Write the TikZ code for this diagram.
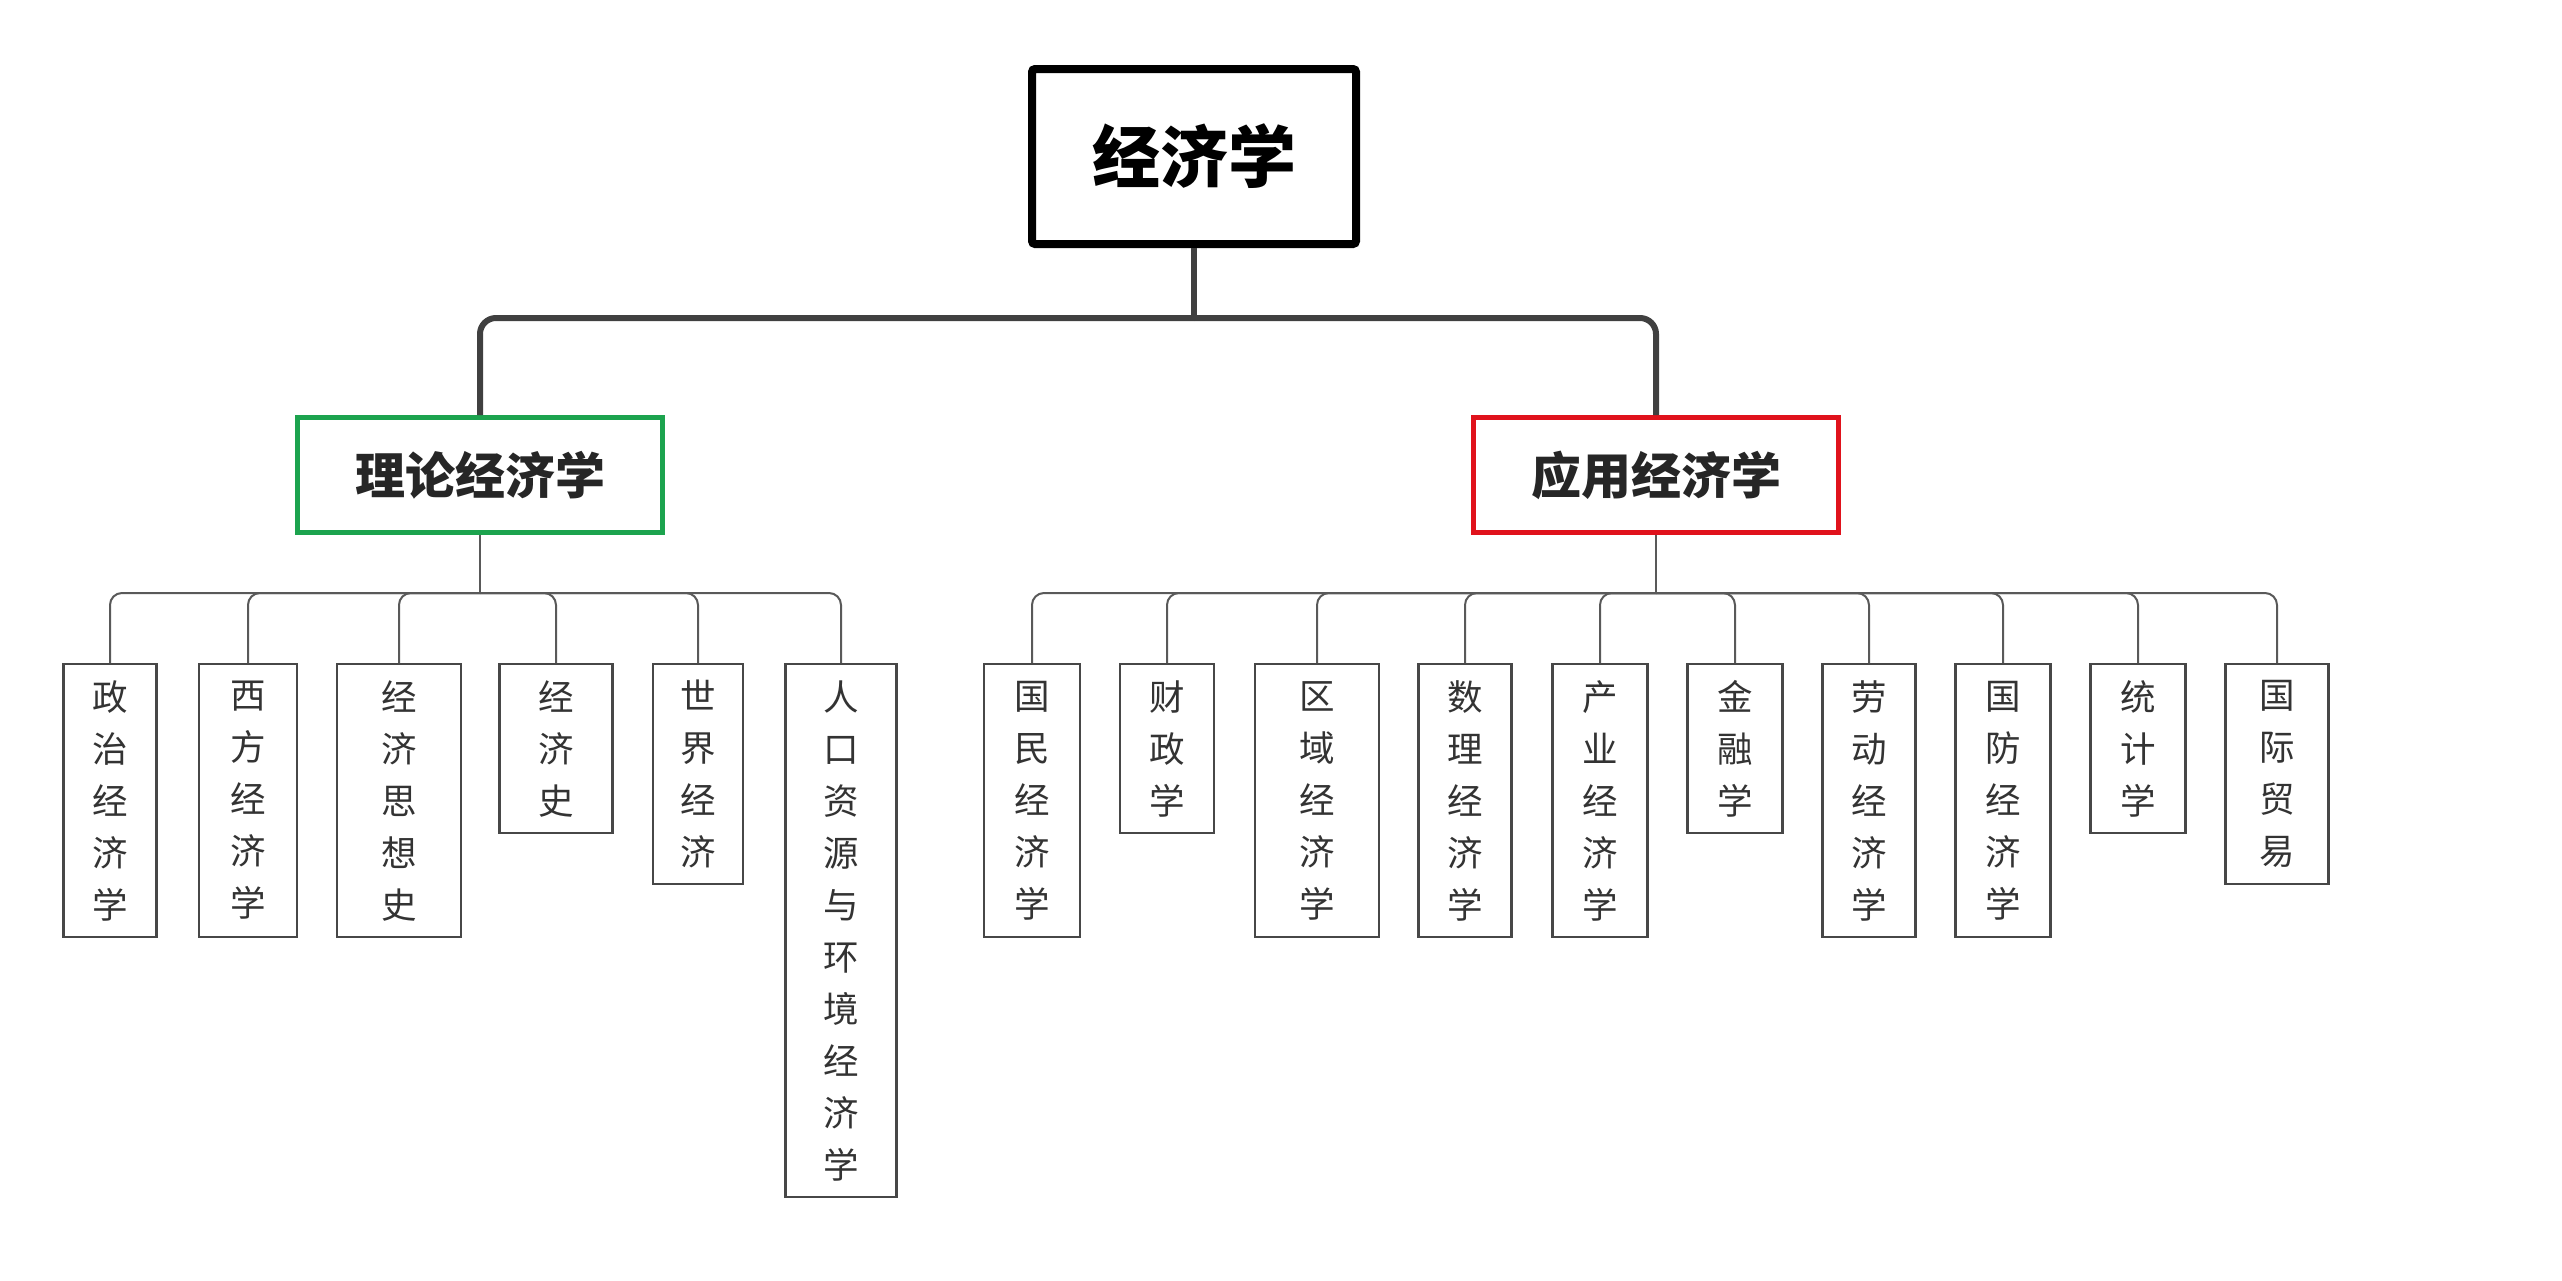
\documentclass[tikz,border=0pt]{standalone}
\usepackage{fontspec}
\setmainfont{Noto Sans CJK SC}
\definecolor{theorygreen}{RGB}{28,163,78}
\definecolor{appliedred}{RGB}{224,18,28}

\begin{document}
\begin{tikzpicture}[x=1pt,y=-1pt,
  topbox/.style={draw=black,line width=8pt,rounded corners=3pt,fill=white,minimum width=324pt,minimum height=175pt,font=\fontsize{68}{80}\selectfont\bfseries},
  branchbox/.style={draw=#1,line width=5pt,fill=white,minimum width=365pt,minimum height=115pt,font=\fontsize{50}{60}\selectfont\bfseries,text=black!85},
  leafbox/.style={draw=black!72,line width=2.2pt,fill=white,anchor=north,align=center,inner sep=4pt,font=\fontsize{35.5}{52}\selectfont,text=black!80},
  trunk/.style={draw=black!75,line width=6pt,rounded corners=16pt},
  twig/.style={draw=black!65,line width=2pt,rounded corners=12pt}]
\useasboundingbox (0,0) rectangle (2562,1280);
\fill[white] (0,0) rectangle (2562,1280);

% root and the two branches
\node [topbox, name=r]                    at (1194,156.5) {经济学};
\node [branchbox=theorygreen, name=a1]    at (480,475)    {理论经济学};
\node [branchbox=appliedred, name=a2]     at (1656,475)   {应用经济学};

% theory leaves
\node [leafbox, minimum width=93pt,  minimum height=273pt, name=b1] at (110,663) {政\\治\\经\\济\\学};
\node [leafbox, minimum width=98pt,  minimum height=273pt, name=b2] at (248,663) {西\\方\\经\\济\\学};
\node [leafbox, minimum width=124pt, minimum height=273pt, name=b3] at (399,663) {经\\济\\思\\想\\史};
\node [leafbox, minimum width=113pt, minimum height=169pt, name=b4] at (556,663) {经\\济\\史};
\node [leafbox, minimum width=90pt,  minimum height=220pt, name=b5] at (698,663) {世\\界\\经\\济};
\node [leafbox, minimum width=111pt, minimum height=533pt, name=b6] at (841,663) {人\\口\\资\\源\\与\\环\\境\\经\\济\\学};

% applied leaves
\node [leafbox, minimum width=96pt,  minimum height=273pt, name=c1]  at (1032,663) {国\\民\\经\\济\\学};
\node [leafbox, minimum width=94pt,  minimum height=169pt, name=c2]  at (1167,663) {财\\政\\学};
\node [leafbox, minimum width=124pt, minimum height=273pt, name=c3]  at (1317,663) {区\\域\\经\\济\\学};
\node [leafbox, minimum width=93pt,  minimum height=273pt, name=c4]  at (1465,663) {数\\理\\经\\济\\学};
\node [leafbox, minimum width=95pt,  minimum height=273pt, name=c5]  at (1600,663) {产\\业\\经\\济\\学};
\node [leafbox, minimum width=95pt,  minimum height=169pt, name=c6]  at (1735,663) {金\\融\\学};
\node [leafbox, minimum width=93pt,  minimum height=273pt, name=c7]  at (1869,663) {劳\\动\\经\\济\\学};
\node [leafbox, minimum width=95pt,  minimum height=273pt, name=c8]  at (2003,663) {国\\防\\经\\济\\学};
\node [leafbox, minimum width=95pt,  minimum height=169pt, name=c9]  at (2138,663) {统\\计\\学};
\node [leafbox, minimum width=103pt, minimum height=220pt, name=c10] at (2277,663) {国\\际\\贸\\易};

% connectors
\coordinate (rj) at (1194,318);
\coordinate (aj1) at (480,593);
\coordinate (aj2) at (1656,593);
\draw [trunk] (r.south) -- (rj);
\draw [trunk] (rj) -| (a1.north);
\draw [trunk] (rj) -| (a2.north);
\draw [twig] (a1.south) -- (aj1);
\draw [twig] (a2.south) -- (aj2);
\draw [twig] (aj1) -| (b1.north);
\draw [twig] (aj1) -| (b2.north);
\draw [twig] (aj1) -| (b3.north);
\draw [twig] (aj1) -| (b4.north);
\draw [twig] (aj1) -| (b5.north);
\draw [twig] (aj1) -| (b6.north);
\draw [twig] (aj2) -| (c1.north);
\draw [twig] (aj2) -| (c2.north);
\draw [twig] (aj2) -| (c3.north);
\draw [twig] (aj2) -| (c4.north);
\draw [twig] (aj2) -| (c5.north);
\draw [twig] (aj2) -| (c6.north);
\draw [twig] (aj2) -| (c7.north);
\draw [twig] (aj2) -| (c8.north);
\draw [twig] (aj2) -| (c9.north);
\draw [twig] (aj2) -| (c10.north);
\end{tikzpicture}
\end{document}
